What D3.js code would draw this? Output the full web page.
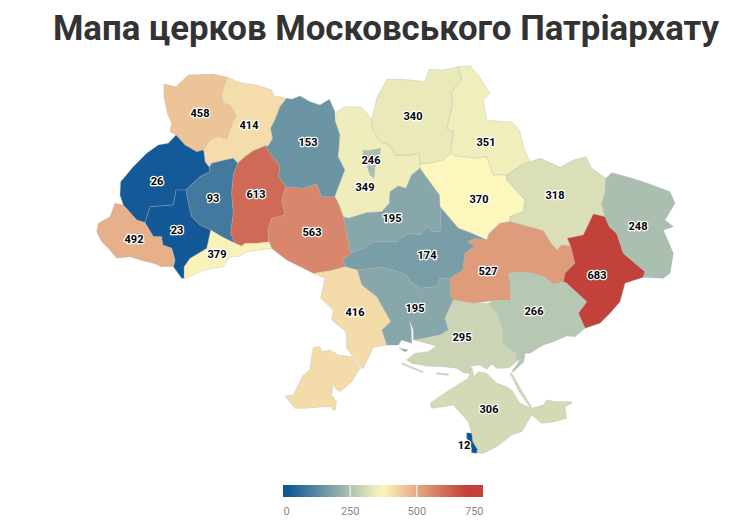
<!DOCTYPE html>
<html>
<head>
<meta charset="utf-8">
<script src="https://d3js.org/d3.v7.min.js"></script>
<style>
body { margin: 0; background: #fff; font-family: Roboto, sans-serif; }
</style>
</head>
<body>
<div class="chart"></div>
<script>
var title = "Мапа церков Московського Патріархату";

var regions = ["Волинська", "Рівненська", "Львівська", "Тернопільська", "Хмельницька", "Вінницька", "Житомирська",
    "Київська", "м. Київ", "Чернігівська", "Сумська", "Полтавська", "Харківська", "Дніпропетровська", "Донецька",
    "Луганська", "Черкаська", "Кіровоградська", "Миколаївська", "Херсонська", "Запорізька", "Одеська",
    "Чернівецька", "Івано-Франківська", "Закарпатська", "АР Крим", "м. Севастополь"];

var values = [458, 414, 26, 93, 613, 563, 153, 349, 246, 340, 351, 370, 318, 527, 683, 248, 195, 174, 195, 295, 266, 416, 379, 23, 492, 306, 12];

var legendTicks = [0, 250, 500, 750];

// region outlines in map units (three units to a pixel), same order as regions
var outlines = [
    [[[682,232],[665,280],[668,308],[690,315],[708,345],[695,375],[680,418],[655,408],[630,420],[610,450],[590,455],[555,435],[528,405],[510,395],[515,370],[502,340],[492,290],[492,252],[528,260],[565,225],[640,222]]],
    [[[682,232],[720,248],[770,255],[815,270],[822,288],[860,295],[840,320],[825,360],[812,385],[818,415],[805,438],[795,438],[760,452],[735,470],[713,490],[700,475],[675,480],[635,490],[628,502],[615,485],[612,458],[610,450],[630,420],[655,408],[680,418],[695,375],[708,345],[690,315],[668,308],[665,280]]],
    [[[528,405],[555,435],[590,455],[610,450],[612,458],[615,485],[628,502],[630,515],[600,530],[558,570],[528,570],[520,615],[450,620],[435,668],[410,660],[370,615],[360,585],[362,545],[400,500],[440,460],[475,435],[505,430]]],
    [[[628,502],[635,490],[675,480],[700,475],[713,490],[700,525],[695,580],[700,640],[692,700],[705,730],[665,710],[632,690],[600,675],[575,650],[565,610],[558,570],[600,530],[630,515]]],
    [[[713,490],[735,470],[760,452],[795,438],[810,460],[840,498],[835,530],[858,560],[845,600],[855,645],[815,655],[803,690],[807,725],[770,730],[735,730],[725,738],[705,730],[692,700],[700,640],[695,580],[700,525]]],
    [[[858,560],[910,565],[950,552],[965,590],[1005,590],[1018,615],[1030,650],[1040,700],[1052,760],[1030,780],[1035,800],[990,812],[940,820],[910,805],[860,780],[815,745],[807,725],[803,690],[815,655],[855,645],[845,600]]],
    [[[860,295],[875,298],[900,288],[930,305],[960,315],[988,298],[1005,335],[1005,360],[1020,405],[1015,470],[1035,510],[1010,575],[1005,590],[965,590],[950,552],[910,565],[858,560],[835,530],[840,498],[810,460],[795,438],[805,438],[818,415],[812,385],[825,360],[840,320]]],
    [[[1005,360],[1010,335],[1035,320],[1085,322],[1115,358],[1118,390],[1140,425],[1170,435],[1185,465],[1230,465],[1258,460],[1260,492],[1260,505],[1235,525],[1218,565],[1195,558],[1170,575],[1168,610],[1145,635],[1100,638],[1045,655],[1030,650],[1018,615],[1005,590],[1010,575],[1035,510],[1015,470],[1020,405]]],
    [[[1090,450],[1105,452],[1142,445],[1138,480],[1125,500],[1122,535],[1110,525],[1100,495],[1087,475]]],
    [[[1115,358],[1125,320],[1130,295],[1160,238],[1210,238],[1275,245],[1288,208],[1330,210],[1375,200],[1385,240],[1355,275],[1358,315],[1340,385],[1360,395],[1352,460],[1330,480],[1290,490],[1260,492],[1258,460],[1230,465],[1185,465],[1170,435],[1140,425],[1118,390]]],
    [[[1375,200],[1410,198],[1435,225],[1470,280],[1450,300],[1460,360],[1505,365],[1535,365],[1558,390],[1572,445],[1590,485],[1565,495],[1520,525],[1480,525],[1460,470],[1425,475],[1368,468],[1352,460],[1360,395],[1340,385],[1358,315],[1355,275],[1385,240]]],
    [[[1260,492],[1290,490],[1330,480],[1352,460],[1368,468],[1425,475],[1460,470],[1480,525],[1520,525],[1520,540],[1575,600],[1570,635],[1530,650],[1530,665],[1500,670],[1468,700],[1460,720],[1415,700],[1375,685],[1320,620],[1318,585],[1285,540],[1260,505]]],
    [[[1590,485],[1620,475],[1655,490],[1680,502],[1720,480],[1758,470],[1775,505],[1818,535],[1815,580],[1805,610],[1815,650],[1780,642],[1750,705],[1702,715],[1712,738],[1685,735],[1670,750],[1650,725],[1630,692],[1575,677],[1530,665],[1530,650],[1570,635],[1575,600],[1520,540],[1520,525],[1565,495]]],
    [[[1460,720],[1468,700],[1500,670],[1530,665],[1575,677],[1630,692],[1650,725],[1670,750],[1685,735],[1712,738],[1725,790],[1695,820],[1690,845],[1660,852],[1630,830],[1600,820],[1560,815],[1525,820],[1530,850],[1532,900],[1480,902],[1420,910],[1360,900],[1350,880],[1350,835],[1388,810],[1395,760],[1425,738],[1402,725],[1425,715]]],
    [[[1780,642],[1815,650],[1828,680],[1850,700],[1870,760],[1935,815],[1930,832],[1875,850],[1860,905],[1830,940],[1800,970],[1755,985],[1735,940],[1760,905],[1700,850],[1690,845],[1695,820],[1725,790],[1712,738],[1702,715],[1750,705]]],
    [[[1818,535],[1835,518],[1880,530],[1920,542],[1965,558],[2010,575],[2025,610],[1995,660],[2020,680],[1990,690],[2020,760],[2010,820],[1990,835],[1930,832],[1935,815],[1870,760],[1850,700],[1828,680],[1815,650],[1805,610],[1815,580]]],
    [[[1030,650],[1045,655],[1100,638],[1145,635],[1168,610],[1170,575],[1195,558],[1218,565],[1235,525],[1260,505],[1285,540],[1318,585],[1320,620],[1322,650],[1320,695],[1300,695],[1280,680],[1260,705],[1225,700],[1190,725],[1120,725],[1090,745],[1052,760],[1040,700]]],
    [[[1320,620],[1375,685],[1415,700],[1460,720],[1425,715],[1402,725],[1425,738],[1395,760],[1388,810],[1350,835],[1320,835],[1310,860],[1260,865],[1230,845],[1220,825],[1180,810],[1140,802],[1072,810],[1035,800],[1030,780],[1052,760],[1090,745],[1120,725],[1190,725],[1225,700],[1260,705],[1280,680],[1300,695],[1320,695],[1322,650]]],
    [[[1072,810],[1140,802],[1180,810],[1220,825],[1230,845],[1260,865],[1310,860],[1320,835],[1350,835],[1350,880],[1360,900],[1335,955],[1345,990],[1320,1005],[1270,1015],[1240,1020],[1240,990],[1228,958],[1234,990],[1235,1030],[1205,1020],[1195,1035],[1160,1035],[1145,990],[1172,965],[1130,890],[1085,855]], [[1198,1045],[1225,1050],[1215,1055]]],
    [[[1360,900],[1420,910],[1465,910],[1495,945],[1510,990],[1510,1030],[1550,1060],[1552,1082],[1530,1102],[1512,1105],[1490,1105],[1475,1092],[1460,1108],[1440,1095],[1410,1098],[1415,1120],[1390,1118],[1370,1105],[1330,1100],[1280,1098],[1235,1090],[1220,1080],[1245,1060],[1285,1055],[1310,1038],[1243,1020],[1270,1015],[1320,1005],[1345,990],[1335,955]], [[1205,1088],[1270,1115],[1268,1118],[1205,1092]], [[1310,1118],[1345,1122],[1345,1126],[1310,1122]]],
    [[[1465,910],[1480,902],[1532,900],[1530,850],[1525,820],[1560,815],[1600,820],[1630,830],[1660,852],[1690,845],[1700,850],[1760,905],[1735,940],[1755,985],[1725,1010],[1700,1008],[1660,1025],[1630,1035],[1590,1060],[1575,1060],[1572,1085],[1540,1115],[1535,1115],[1560,1080],[1552,1082],[1550,1060],[1510,1030],[1510,990],[1495,945]]],
    [[[940,820],[990,812],[1035,800],[1072,810],[1085,855],[1130,890],[1172,965],[1145,990],[1160,1035],[1120,1042],[1090,1105],[1085,1105],[1055,1065],[1040,1045],[1038,995],[995,960],[1000,930],[962,895],[975,835]], [[940,1042],[960,1040],[965,1055],[990,1050],[1015,1065],[1055,1070],[1080,1105],[1055,1145],[1020,1175],[1005,1165],[1000,1145],[995,1185],[1010,1205],[1005,1232],[990,1220],[970,1220],[915,1225],[885,1225],[855,1188],[880,1185],[910,1125],[930,1110],[935,1070]]],
    [[[632,690],[665,710],[705,730],[725,738],[735,730],[770,730],[807,725],[815,745],[780,750],[740,755],[715,770],[690,770],[670,800],[610,810],[570,830],[552,835],[552,800],[570,775],[620,745]]],
    [[[528,570],[558,570],[565,610],[575,650],[600,675],[632,690],[620,745],[570,775],[552,800],[552,835],[545,835],[520,800],[525,780],[515,745],[488,735],[485,710],[460,710],[435,668],[450,620],[520,615]]],
    [[[410,660],[435,668],[460,710],[485,710],[488,735],[515,745],[525,780],[520,800],[485,800],[460,790],[420,780],[390,770],[350,775],[325,745],[305,725],[290,695],[295,670],[330,650],[345,610],[370,615]]],
    [[[1415,1100],[1422,1130],[1435,1115],[1460,1120],[1490,1150],[1520,1160],[1535,1170],[1560,1210],[1595,1225],[1630,1215],[1640,1200],[1665,1205],[1715,1205],[1715,1210],[1695,1220],[1700,1255],[1665,1265],[1625,1270],[1595,1245],[1565,1295],[1535,1305],[1490,1340],[1450,1360],[1430,1360],[1432,1348],[1418,1325],[1415,1300],[1405,1265],[1360,1215],[1330,1220],[1295,1225],[1290,1210],[1340,1175],[1405,1135]], [[1530,1120],[1535,1120],[1570,1180],[1595,1222],[1590,1222],[1560,1180]]],
    [[[1400,1298],[1415,1300],[1418,1325],[1432,1348],[1430,1360],[1415,1358],[1412,1330],[1400,1315]]]
];

// label anchors, map units, same order as regions
var labelPoints = [[600,339],[747,375],[471,543],[639,594],[768,582],[936,696],[924,426],[1095,561],[1113,480],[1239,348],[1458,426],[1437,597],[1665,585],[1464,813],[1791,825],[1914,678],[1176,654],[1281,765],[1245,924],[1386,1011],[1602,933],[1065,936],[651,762],[531,690],[402,717],[1467,1227],[1392,1335]];

var width = 741, height = 529;

var svg = d3.select(".chart").append("svg")
    .attr("width", width)
    .attr("height", height)
    .style("display", "block");

var color = d3.scaleLinear()
    .domain([12, 370, 683])
    .range(["#0c5496", "#fdf7bd", "#c2413a"])
    .clamp(true);

var projection = d3.geoIdentity().scale(1 / 3);
var path = d3.geoPath(projection);

var features = regions.map(function(name, i) {
    return {
        type: "Feature",
        properties: { name: name, value: values[i] },
        geometry: {
            type: "MultiPolygon",
            coordinates: outlines[i].map(function(ring) { return [ring.concat([ring[0]])]; })
        }
    };
});

svg.append("text")
    .attr("x", 386)
    .attr("y", 40)
    .attr("text-anchor", "middle")
    .attr("font-size", 34.8)
    .attr("font-weight", 700)
    .attr("fill", "#333")
    .text(title);

svg.append("g").selectAll("path")
    .data(features)
    .join("path")
    .attr("d", path)
    .attr("fill", function(d) { return color(d.properties.value); })
    .attr("stroke", "#aaa")
    .attr("stroke-opacity", 0.5)
    .attr("stroke-width", 0.6)
    .attr("stroke-linejoin", "round");

svg.append("g").selectAll("text")
    .data(features)
    .join("text")
    .attr("transform", function(d, i) { return "translate(" + projection(labelPoints[i]) + ")"; })
    .attr("text-anchor", "middle")
    .attr("dy", "0.35em")
    .attr("font-size", 11)
    .attr("font-weight", 700)
    .attr("fill", "#000")
    .attr("stroke", "#fff")
    .attr("stroke-width", 2.5)
    .attr("stroke-linejoin", "round")
    .attr("paint-order", "stroke")
    .text(function(d) { return d.properties.value; });

// legend
var legendScale = d3.scaleLinear().domain([0, 750]).range([283, 483]);

var gradient = svg.append("defs").append("linearGradient")
    .attr("id", "legend-gradient");

gradient.selectAll("stop")
    .data(d3.range(0, 751, 25))
    .join("stop")
    .attr("offset", function(d) { return d / 750; })
    .attr("stop-color", function(d) { return color(d); });

svg.append("rect")
    .attr("x", legendScale(0))
    .attr("y", 485)
    .attr("width", legendScale(750) - legendScale(0))
    .attr("height", 12)
    .attr("fill", "url(#legend-gradient)");

var legendAxis = svg.append("g")
    .attr("transform", "translate(0,497)")
    .call(d3.axisBottom(legendScale).tickValues(legendTicks).tickSize(0).tickPadding(10));

legendAxis.select(".domain").remove();

legendAxis.selectAll("text")
    .attr("font-family", "Roboto, sans-serif")
    .attr("font-size", 11)
    .attr("fill", "#888")
    .attr("text-anchor", function(d) { return d === 0 ? "start" : d === 750 ? "end" : "middle"; });

legendAxis.selectAll("line")
    .attr("y2", -12)
    .attr("stroke", "#fff")
    .attr("stroke-width", 1)
    .filter(function(d) { return d === 0 || d === 750; })
    .remove();
</script>
</body>
</html>
